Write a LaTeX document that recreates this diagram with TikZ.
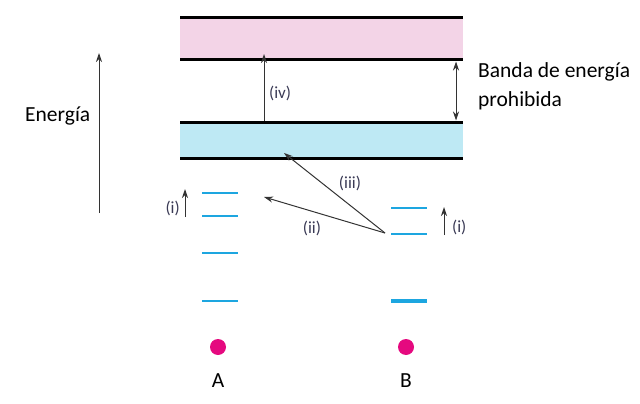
\documentclass[tikz,border=0pt]{standalone}
\usepackage{fontspec}
\setmainfont{Carlito}
\usetikzlibrary{arrows.meta}
\definecolor{pinkband}{HTML}{F3D4E7}
\definecolor{blueband}{HTML}{BEE9F4}
\definecolor{levelblue}{HTML}{1DA6E0}
\definecolor{dotmag}{HTML}{E5097F}
\definecolor{lbl}{HTML}{3A3A55}
\tikzset{
  bandline/.style={line width=3pt, black},
  level/.style={line width=2.4pt, levelblue},
  arr/.style={line width=1pt, black!80, -{Stealth[length=9pt,width=6pt]}},
  lab/.style={font=\fontsize{17}{20}\selectfont, text=lbl, inner sep=0pt},
  big/.style={font=\fontsize{21.5}{25}\selectfont, text=black, inner sep=0pt},
  dot/.style={circle, fill=dotmag, minimum size=16pt, inner sep=0pt}
}
\begin{document}
\begin{tikzpicture}[x=1pt,y=-1pt]
\useasboundingbox (0,0) rectangle (640,404);
% bands
\fill[pinkband] (180,18) rectangle (463,60);
\fill[blueband] (180,122) rectangle (463,158);
\draw[bandline] (180,18) coordinate (c1l) -- (463,18) coordinate (c1r);
\draw[bandline] (180,60) coordinate (c2l) -- (463,60) coordinate (c2r);
\draw[bandline] (180,122) coordinate (v1l) -- (463,122) coordinate (v1r);
\draw[bandline] (180,158) coordinate (v2l) -- (463,158) coordinate (v2r);
% (iv)
\coordinate (ivs) at (264,121);
\coordinate (ive) at (264,54);
\draw[arr] (ivs) -- (ive);
\node[lab, anchor=west] (ivl) at (269,93) {(iv)};
% gap arrow
\coordinate (gt) at (456,61.5);
\coordinate (gb) at (456,120.5);
\draw[line width=1pt, black!80, {Stealth[length=9pt,width=6pt]}-{Stealth[length=9pt,width=6pt]}] (gt) -- (gb);
\node[big, anchor=west] (banda) at (478,72) {Banda de energía};
\node[big, anchor=west] (proh) at (478,101) {prohibida};
% energy axis
\coordinate (es) at (99,213);
\coordinate (ee) at (99,53);
\draw[arr] (es) -- (ee);
\node[big, anchor=west] (energia) at (25,116) {Energía};
% levels A
\draw[level] (202,193) coordinate (a1l) -- (238,193) coordinate (a1r);
\draw[level] (202,216) coordinate (a2l) -- (238,216) coordinate (a2r);
\draw[level] (202,253) coordinate (a3l) -- (238,253) coordinate (a3r);
\draw[level] (202,301) coordinate (a4l) -- (238,301) coordinate (a4r);
% levels B
\draw[level] (391,208) coordinate (b1l) -- (427,208) coordinate (b1r);
\draw[level] (391,234) coordinate (b2l) -- (427,234) coordinate (b2r);
\draw[level, line width=3.2pt] (391,301) coordinate (b3l) -- (427,301) coordinate (b3r);
% (i) arrows
\coordinate (ias) at (185,217);
\coordinate (iae) at (185,189);
\draw[arr] (ias) -- (iae);
\node[lab, anchor=east] (ial) at (180,208) {(i)};
\coordinate (ibs) at (444,235);
\coordinate (ibe) at (444,207);
\draw[arr] (ibs) -- (ibe);
\node[lab, anchor=west] (ibl) at (452,227) {(i)};
% (ii) and (iii)
\coordinate (src) at (385,233);
\coordinate (iie) at (264,197);
\coordinate (iiie) at (284,153);
\draw[arr] (src) -- (iie);
\draw[arr] (src) -- (iiie);
\node[lab] (iil) at (312,228) {(ii)};
\node[lab] (iiil) at (350,183) {(iii)};
% dots
\node[dot] (dA) at (218,347) {};
\node[dot] (dB) at (406,347) {};
\node[big] (A) at (218,381) {A};
\node[big] (B) at (406,381) {B};
\end{tikzpicture}
\end{document}
